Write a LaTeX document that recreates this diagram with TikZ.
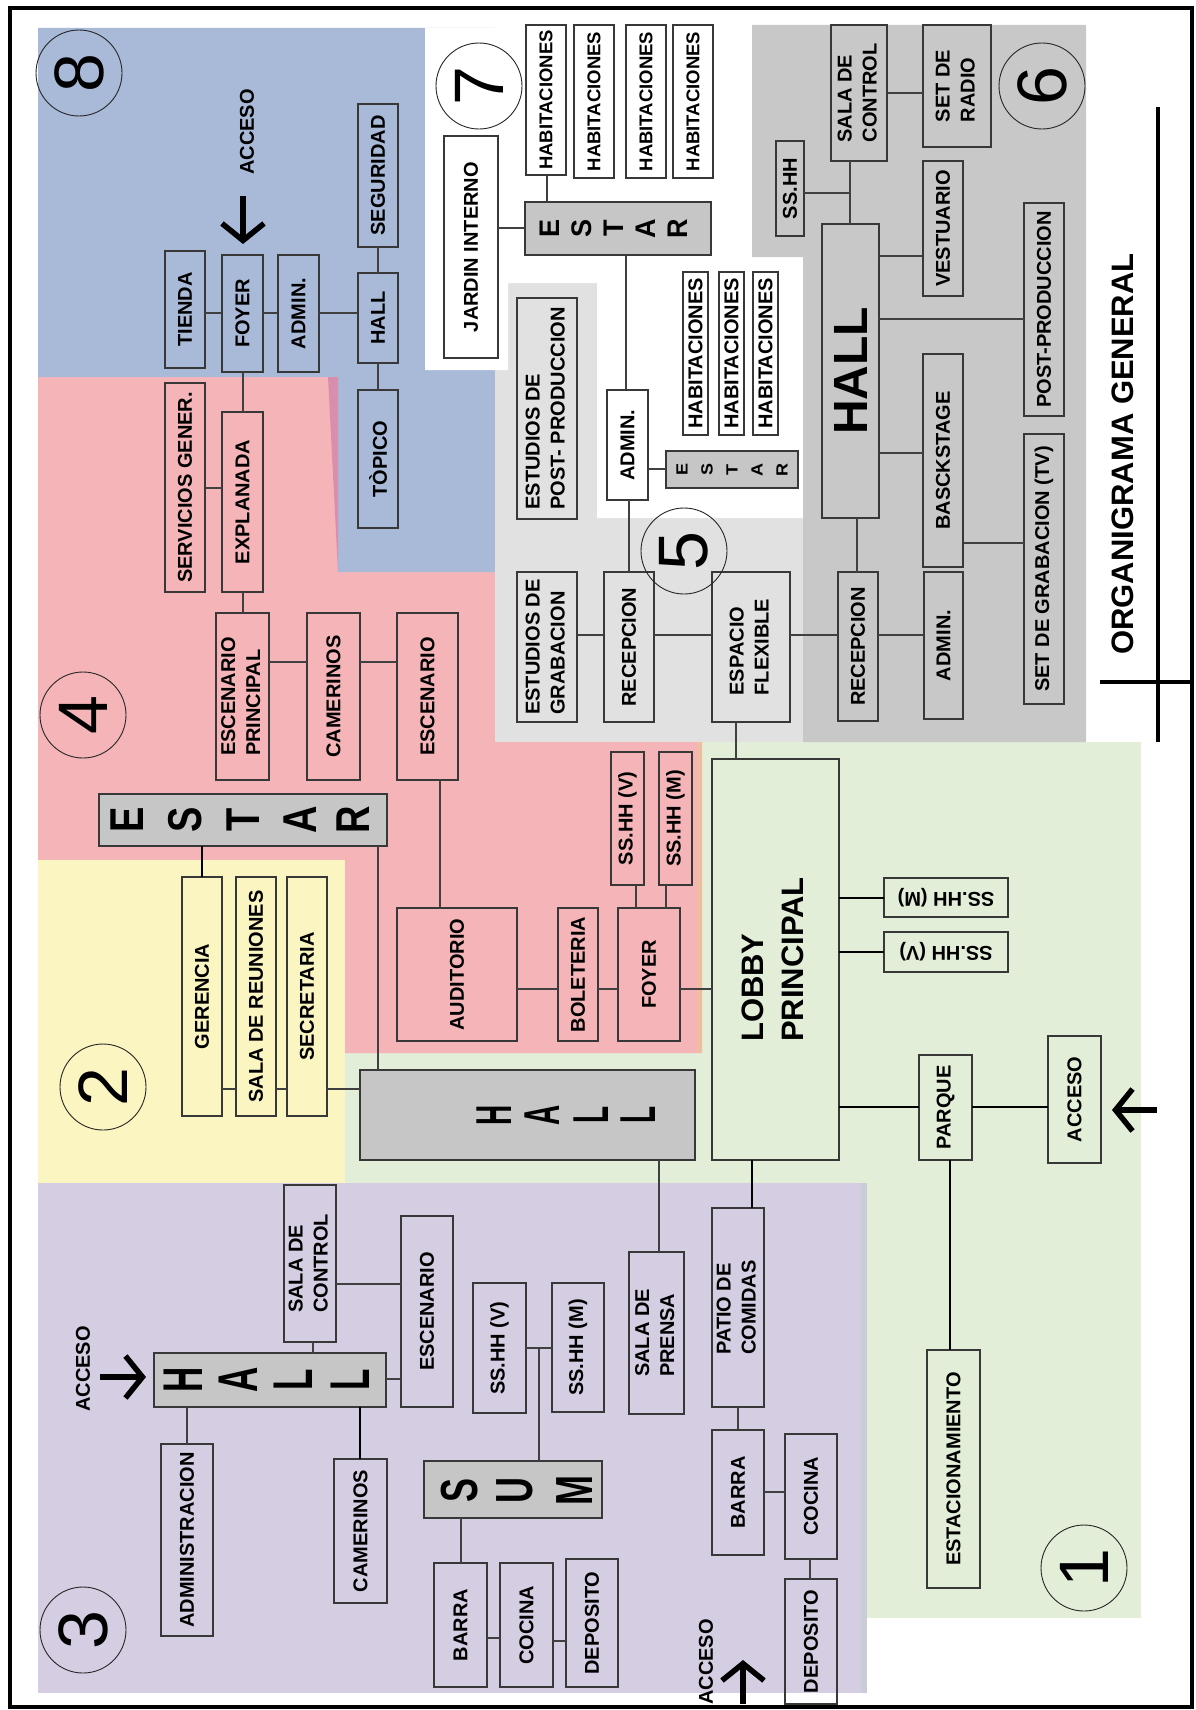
\documentclass[tikz,border=0pt]{standalone}
\usepackage{fontspec}
\setmainfont{Liberation Sans}
\usepackage{graphicx}
\usetikzlibrary{arrows.meta}
\definecolor{cblu}{HTML}{A9B9D8}
\definecolor{cpnk}{HTML}{F5B5B8}
\definecolor{cyel}{HTML}{FBF5C1}
\definecolor{cpur}{HTML}{D5CDE2}
\definecolor{cgrn}{HTML}{E2EED8}
\definecolor{cgv}{HTML}{E1E1E1}
\definecolor{cgs}{HTML}{C8C8C8}
\definecolor{cgbox}{HTML}{C6C6C6}
\definecolor{cmag}{HTML}{D88FAE}
\definecolor{corg}{HTML}{EDBEA0}
\definecolor{cpedge}{HTML}{C9CDD6}
\newcommand{\two}[2]{\begin{tabular}{@{}l@{}}#1\\#2\end{tabular}}
\newcommand{\mybox}[7][]{\node[bx,minimum width={#5-#3},minimum height={#6-#4},#1] (#2) at ({(#3+#5)/2},{(#4+#6)/2}) {\rotatebox{90}{#7}};}
\newcommand{\hcon}[4][cn]{\draw[#1] (#2.east |- 0,#4) -- (#3.west |- 0,#4);}
\newcommand{\vcon}[4][cn]{\draw[#1] (#2.south -| #4,0) -- (#3.north -| #4,0);}
\begin{document}
\begin{tikzpicture}[x=1pt,y=-1pt,
  bx/.style={draw=black!78,line width=1.2pt,rectangle,inner sep=0pt,outer sep=0pt,font=\bfseries\fontsize{20}{25}\selectfont},
  cn/.style={draw=black!75,line width=1.2pt},
  cnt/.style={draw=black,line width=2pt},
  num/.style={circle,draw=black!85,line width=0.9pt,minimum size=86pt,inner sep=0pt,font=\fontsize{70}{70}\selectfont},
  ltr/.style={inner sep=0pt},
  arr/.style={line width=5.5pt,-{Straight Barb[length=17pt,width=42pt]}},
  lab/.style={font=\bfseries\fontsize{20}{24}\selectfont,inner sep=0pt}]
\useasboundingbox (0,0) rectangle (1195,1710);
% ---------- regions ----------
\fill[cgrn] (338,742) rectangle (1141,1618);
\fill[cpnk] (38,377) -- (333,377) -- (338,572) -- (495,572) -- (495,742) -- (702,742) -- (702,1053) -- (38,1053) -- cycle;
\fill[corg] (697,742) rectangle (702,1053);
\fill[cyel] (38,860) rectangle (345,1183);
\fill[cpur] (38,1183) rectangle (867,1693);
\fill[cpedge] (861,1183) rectangle (867,1693);
\fill[cblu] (38,28) -- (495,28) -- (495,572) -- (338,572) -- (333,377) -- (38,377) -- cycle;
\fill[cmag] (328,377) -- (338,377) -- (338,572) -- cycle;
\fill[cgv] (495,283) rectangle (803,742);
\fill[white] (425,28) -- (752,28) -- (752,257) -- (803,257) -- (803,518) -- (597,518) -- (597,283) -- (508,283) -- (508,370) -- (425,370) -- cycle;
\fill[cgs] (752,25) -- (1086,25) -- (1086,742) -- (803,742) -- (803,257) -- (752,257) -- cycle;
\draw[line width=4pt] (10,8) rectangle (1192,1707);
% ---------- region 8 ----------
\node[num] (c8) at (79,73) {\rotatebox{90}{8}};
\node[lab] (acc8) at (247,132) {\rotatebox{90}{ACCESO}};
\coordinate (a8) at (243,196);
\coordinate (b8) at (243,244);
\draw[arr] (a8) -- (b8);
\mybox{tienda}{165}{251}{205}{368}{TIENDA}
\mybox{foyerA}{222}{255}{263}{372}{FOYER}
\mybox{adminA}{278}{255}{319}{372}{ADMIN.}
\mybox{hallA}{358}{273}{398}{363}{HALL}
\mybox{segur}{358}{104}{398}{247}{SEGURIDAD}
\mybox{topico}{358}{390}{398}{528}{TÒPICO}
\hcon{tienda}{foyerA}{313}
\hcon{foyerA}{adminA}{313}
\hcon{adminA}{hallA}{313}
\vcon{segur}{hallA}{378}
\vcon{hallA}{topico}{378}
% ---------- region 4 ----------
\node[num] (c4) at (83,715) {\rotatebox{90}{4}};
\mybox{servg}{165}{383}{205}{592}{SERVICIOS GENER.}
\mybox{expl}{222}{412}{263}{592}{EXPLANADA}
\mybox{escp}{216}{613}{269}{780}{\two{ESCENARIO}{PRINCIPAL}}
\mybox{camA}{307}{613}{360}{780}{CAMERINOS}
\mybox{escA}{397}{613}{458}{780}{ESCENARIO}
\mybox[fill=cgbox]{estarA}{99}{794}{387}{846}{}
\foreach \ch/\xx [count=\i] in {E/127,S/185,T/243,A/300,R/353}
  \node[ltr,font=\bfseries\fontsize{38}{38}\selectfont] (estarA-\i) at (\xx,820) {\rotatebox{90}{\scalebox{1}[1.25]{\ch}}};
\mybox{audit}{397}{908}{517}{1041}{AUDITORIO}
\mybox{bolet}{558}{908}{598}{1041}{BOLETERIA}
\mybox{foyerB}{618}{908}{680}{1041}{FOYER}
\mybox{sshhVa}{611}{752}{644}{885}{SS.HH (V)}
\mybox{sshhMa}{659}{752}{692}{885}{SS.HH (M)}
\vcon{foyerA}{expl}{243}
\hcon{servg}{expl}{488}
\vcon{expl}{escp}{243}
\hcon{escp}{camA}{662}
\hcon{camA}{escA}{662}
\vcon{escA}{audit}{440}
\hcon{audit}{bolet}{989}
\hcon{bolet}{foyerB}{989}
\vcon{sshhVa}{foyerB}{636}
\vcon{sshhMa}{foyerB}{666}
% ---------- region 2 ----------
\node[num] (c2) at (103,1087) {\rotatebox{90}{2}};
\mybox{geren}{182}{877}{222}{1116}{GERENCIA}
\mybox{salar}{236}{877}{276}{1116}{SALA DE REUNIONES}
\mybox{secre}{287}{877}{327}{1116}{SECRETARIA}
\vcon[cnt]{estarA}{geren}{202}
\hcon{geren}{salar}{1089}
\hcon{salar}{secre}{1089}
% ---------- central ----------
\mybox[fill=cgbox]{hallB}{360}{1070}{695}{1160}{}
\foreach \ch/\xx [count=\i] in {H/494,A/542,L/591,L/638}
  \node[ltr,font=\bfseries\fontsize{28}{28}\selectfont] (hallB-\i) at (\xx,1115) {\rotatebox{90}{\scalebox{1}[1.8]{\ch}}};
\vcon{estarA}{hallB}{378}
\hcon{secre}{hallB}{1089}
\mybox[font=\bfseries\fontsize{31}{40}\selectfont]{lobby}{712}{759}{839}{1160}{\two{LOBBY}{PRINCIPAL}}
\hcon{foyerB}{lobby}{989}
\node[bx,minimum width=124,minimum height=39] (sshhMb) at (946,897.5) {\rotatebox{180}{SS.HH (M)}};
\node[bx,minimum width=124,minimum height=40] (sshhVb) at (946,952) {\rotatebox{180}{SS.HH (V)}};
\hcon[cnt]{lobby}{sshhMb}{898}
\hcon[cnt]{lobby}{sshhVb}{952}
\mybox{parque}{919}{1055}{972}{1160}{PARQUE}
\mybox{accb}{1048}{1036}{1101}{1163}{ACCESO}
\hcon[cnt]{lobby}{parque}{1107}
\hcon[cnt]{parque}{accb}{1107}
\coordinate (a1) at (1157,1110);
\coordinate (b1) at (1112,1110);
\draw[arr] (a1) -- (b1);
\mybox{estac}{927}{1350}{980}{1588}{ESTACIONAMIENTO}
\vcon[cnt]{parque}{estac}{950}
\node[num] (c1) at (1084,1568) {\rotatebox{90}{1}};
% ---------- region 5 ----------
\mybox{estpost}{517}{298}{577}{519}{\two{ESTUDIOS DE}{POST- PRODUCCION}}
\mybox{estgrab}{517}{572}{577}{722}{\two{ESTUDIOS DE}{GRABACION}}
\mybox{recepA}{604}{572}{654}{722}{RECEPCION}
\mybox{espacio}{712}{572}{790}{722}{\two{ESPACIO}{FLEXIBLE}}
\mybox{adminB}{607}{390}{648}{500}{ADMIN.}
\mybox[fill=cgbox]{estarC}{666}{451}{798}{488}{}
\foreach \ch/\xx [count=\i] in {E/682,S/707,T/732,A/757,R/782}
  \node[ltr,font=\bfseries\fontsize{18}{18}\selectfont] (estarC-\i) at (\xx,469.5) {\rotatebox{90}{\scalebox{1}[0.9]{\ch}}};
\node[num] (c5) at (684,551) {\rotatebox{90}{5}};
\hcon{estgrab}{recepA}{635}
\hcon{recepA}{espacio}{635}
\vcon{adminB}{recepA}{629}
\hcon{adminB}{estarC}{469}
\vcon{espacio}{lobby}{736}
\mybox[font=\bfseries\fontsize{20}{24}\selectfont]{habLa}{683}{272}{708}{435}{HABITACIONES}
\mybox[font=\bfseries\fontsize{20}{24}\selectfont]{habLb}{719}{272}{744}{435}{HABITACIONES}
\mybox[font=\bfseries\fontsize{20}{24}\selectfont]{habLc}{753}{272}{778}{435}{HABITACIONES}
% ---------- region 7 ----------
\node[num] (c7) at (479,86) {\rotatebox{90}{7}};
\mybox{jardin}{444}{136}{498}{358}{JARDIN INTERNO}
\mybox[fill=cgbox]{estarB}{525}{202}{711}{255}{}
\foreach \ch/\xx [count=\i] in {E/550,S/582,T/614,A/646,R/678}
  \node[ltr,font=\bfseries\fontsize{27}{27}\selectfont] (estarB-\i) at (\xx,228.5) {\rotatebox{90}{\scalebox{1}[1.05]{\ch}}};
\mybox[font=\bfseries\fontsize{18.5}{24}\selectfont]{habUa}{526}{25}{566}{175}{HABITACIONES}
\mybox[font=\bfseries\fontsize{18.5}{24}\selectfont]{habUb}{574}{25}{614}{178}{HABITACIONES}
\mybox[font=\bfseries\fontsize{18.5}{24}\selectfont]{habUc}{626}{25}{666}{178}{HABITACIONES}
\mybox[font=\bfseries\fontsize{18.5}{24}\selectfont]{habUd}{673}{25}{713}{178}{HABITACIONES}
\hcon{jardin}{estarB}{228}
\vcon{habUa}{estarB}{547}
\vcon{estarB}{adminB}{626}
% ---------- region 6 ----------
\node[num] (c6) at (1042,86) {\rotatebox{90}{6}};
\mybox{sshhC}{776}{141}{804}{236}{SS.HH}
\mybox{salacA}{831}{25}{887}{161}{\two{SALA DE}{CONTROL}}
\mybox{setradio}{923}{25}{991}{147}{\two{SET DE}{RADIO}}
\mybox[font=\bfseries\fontsize{48}{48}\selectfont]{hallC}{822}{224}{879}{518}{HALL}
\mybox{vestu}{923}{161}{963}{296}{VESTUARIO}
\mybox{postp}{1024}{203}{1064}{416}{POST-PRODUCCION}
\mybox{bascks}{923}{354}{963}{567}{BASCKSTAGE}
\mybox{setgrab}{1024}{434}{1064}{704}{SET DE GRABACION (TV)}
\mybox{recepB}{838}{572}{878}{721}{RECEPCION}
\mybox{adminC}{924}{572}{963}{719}{ADMIN.}
\vcon{salacA}{hallC}{850}
\coordinate (j6) at (850,193);
\draw[cn] (sshhC.east |- 0,193) -- (j6);
\hcon{salacA}{setradio}{93}
\hcon{hallC}{vestu}{256}
\hcon{hallC}{postp}{319}
\hcon{hallC}{bascks}{453}
\hcon{bascks}{setgrab}{543}
\vcon{hallC}{recepB}{857}
\hcon{espacio}{recepB}{635}
\hcon{recepB}{adminC}{635}
% ---------- title ----------
\node[inner sep=0pt,font=\bfseries\fontsize{31}{31}\selectfont] (title) at (1123,454) {\rotatebox{90}{ORGANIGRAMA GENERAL}};
\coordinate (t1) at (1158,107);
\coordinate (t2) at (1158,742);
\coordinate (t3) at (1100,682);
\coordinate (t4) at (1192,682);
\draw[line width=4pt] (t1) -- (t2);
\draw[line width=4pt] (t3) -- (t4);
% ---------- region 3 ----------
\node[num] (c3) at (83,1630) {\rotatebox{90}{3}};
\mybox{salacB}{284}{1185}{336}{1342}{\two{SALA DE}{CONTROL}}
\mybox{escB}{401}{1216}{453}{1407}{ESCENARIO}
\mybox[fill=cgbox]{hallD}{154}{1353}{386}{1407}{}
\foreach \ch/\xx [count=\i] in {H/183,A/238,L/293,L/350}
  \node[ltr,font=\bfseries\fontsize{35}{35}\selectfont] (hallD-\i) at (\xx,1380) {\rotatebox{90}{\scalebox{1}[1.6]{\ch}}};
\node[lab] (acc3) at (83,1369) {\rotatebox{90}{ACCESO}};
\coordinate (a3) at (100,1377);
\coordinate (b3) at (146,1377);
\draw[arr] (a3) -- (b3);
\mybox{adminis}{161}{1444}{213}{1636}{ADMINISTRACION}
\mybox{camB}{334}{1459}{387}{1603}{CAMERINOS}
\vcon{salacB}{hallD}{313}
\hcon{salacB}{escB}{1284}
\hcon{hallD}{escB}{1379}
\vcon{hallD}{adminis}{187}
\vcon[cnt]{hallD}{camB}{360}
\mybox{sshhVc}{473}{1283}{526}{1413}{SS.HH (V)}
\mybox{sshhMc}{552}{1283}{604}{1412}{SS.HH (M)}
\mybox[fill=cgbox]{sum}{424}{1461}{602}{1518}{}
\foreach \ch/\xx [count=\i] in {S/460,U/515,M/575}
  \node[ltr,font=\bfseries\fontsize{36}{36}\selectfont] (sum-\i) at (\xx,1490) {\rotatebox{90}{\scalebox{1}[1.45]{\ch}}};
\hcon{sshhVc}{sshhMc}{1348}
\coordinate (j3) at (539,1348);
\draw[cn] (j3) -- (sum.north -| 539,0);
\mybox{barraA}{434}{1563}{487}{1687}{BARRA}
\mybox{cocinaA}{500}{1563}{553}{1687}{COCINA}
\mybox{deposA}{566}{1559}{618}{1687}{DEPOSITO}
\vcon{sum}{barraA}{461}
\hcon{barraA}{cocinaA}{1638}
\hcon{cocinaA}{deposA}{1641}
\mybox{prensa}{629}{1252}{684}{1414}{\two{SALA DE}{PRENSA}}
\vcon{hallB}{prensa}{659}
\mybox{patio}{712}{1208}{764}{1407}{\two{PATIO DE}{COMIDAS}}
\vcon[cnt]{lobby}{patio}{752}
\mybox{barraB}{712}{1430}{764}{1555}{BARRA}
\mybox{cocinaB}{785}{1434}{837}{1559}{COCINA}
\mybox{deposB}{785}{1579}{837}{1704}{DEPOSITO}
\vcon{patio}{barraB}{738}
\hcon{barraB}{cocinaB}{1492}
\vcon{cocinaB}{deposB}{810}
\node[lab] (accB) at (706,1662) {\rotatebox{90}{ACCESO}};
\coordinate (aB) at (743,1704);
\coordinate (bB) at (743,1660);
\draw[arr] (aB) -- (bB);
\end{tikzpicture}
\end{document}
